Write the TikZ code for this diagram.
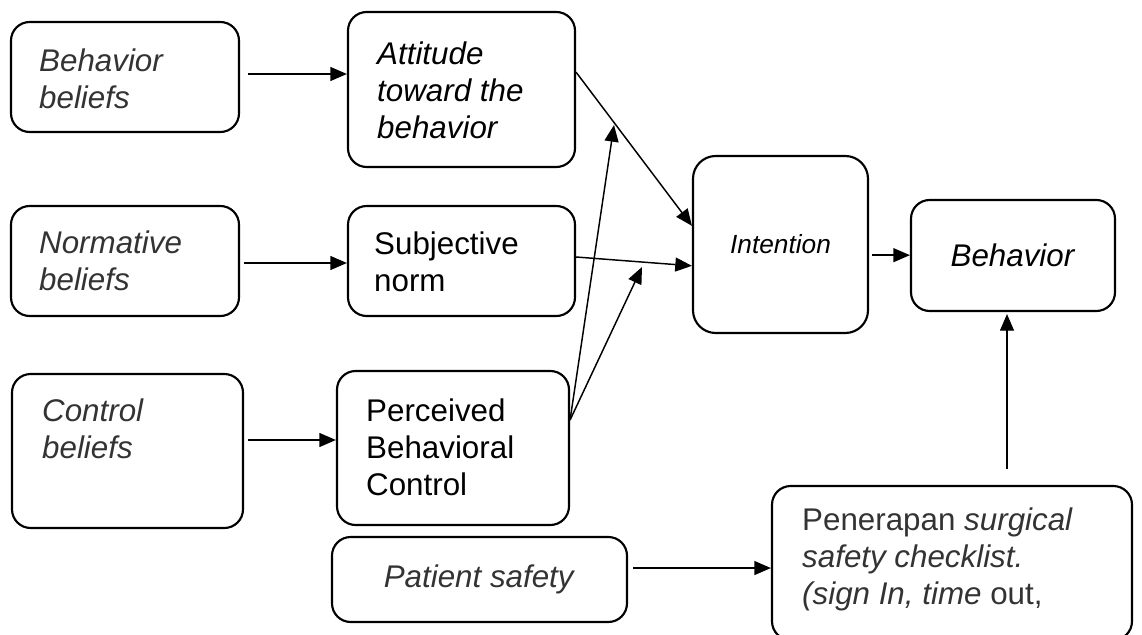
\documentclass[tikz,border=0pt]{standalone}
\usepackage{fontspec}
\setmainfont{Liberation Sans}
\usetikzlibrary{positioning,arrows.meta}

\definecolor{textgrey}{gray}{0.2}

\tikzset{
  box/.style={draw, line width=1.6pt, rounded corners=14pt},
  lbl/.style={inner sep=0pt, align=left},
  arr/.style={-{Triangle[length=12.5pt,width=10.5pt]}, line width=1.1pt}
}

\begin{document}
\begin{tikzpicture}
  [x=0.75pt, y=-0.75pt, font=\fontsize{23.5}{27.75}\selectfont]
  \useasboundingbox (0,0) rectangle (1142,635);
  \clip (0,0) rectangle (1142,635);

  % beliefs (left column)
  \node[box, minimum width=171pt, minimum height=82.5pt] (bb) at (125,77) {};
  \node[box, minimum width=171pt, minimum height=82.5pt] (nb) at (125,261) {};
  \node[box, minimum width=173.25pt, minimum height=115.5pt] (cb) at (127.5,451) {};
  \node[lbl, text=textgrey, below right=21pt and 21.75pt of bb.north west] (bbtext) {\textit{Behavior}\\\textit{beliefs}};
  \node[lbl, text=textgrey, below right=19.5pt and 21.75pt of nb.north west] (nbtext) {\textit{Normative}\\\textit{beliefs}};
  \node[lbl, text=textgrey, below right=19.5pt and 23.25pt of cb.north west] (cbtext) {\textit{Control}\\\textit{beliefs}};

  % middle column
  \node[box, minimum width=170.25pt, minimum height=116.25pt] (att) at (461.5,89.5) {};
  \node[box, minimum width=170.25pt, minimum height=82.5pt] (sn) at (461.5,261) {};
  \node[box, minimum width=174pt, minimum height=115.5pt] (pbc) at (453,448) {};
  \node[lbl, below right=23pt and 22.5pt of att.north west] (atttext) {\textit{Attitude}\\\textit{toward the}\\\textit{behavior}};
  \node[lbl, below right=20.25pt and 20.25pt of sn.north west] (sntext) {Subjective\\norm};
  \node[lbl, below right=21.75pt and 22.5pt of pbc.north west] (pbctext) {Perceived\\Behavioral\\Control};
  \node[box, text=textgrey, minimum width=221.25pt, minimum height=63.75pt] (ps) at (479.5,579.5) {\textit{Patient safety}};

  % right part
  \node[box, rounded corners=17pt, minimum width=131.25pt, minimum height=132.75pt,
        font=\fontsize{19.7}{23}\selectfont] (int) at (780.5,244.5) {\textit{Intention}};
  \node[box, minimum width=153pt, minimum height=83.25pt] (beh) at (1013,255.5) {\textit{Behavior}};
  \node[box, minimum width=270pt, minimum height=115.5pt] (chk) at (952,563) {};
  \node[lbl, text=textgrey, below right=17.25pt and 23.25pt of chk.north west] (chktext)
     {Penerapan \textit{surgical}\\\textit{safety checklist.}\\\textit{(sign In, time} out,};

  % free ends
  \coordinate (tipA) at (614,125);
  \coordinate (tipB) at (642,267);
  \coordinate (chkup) at (1007,469);

  % connectors
  \draw[arr, shorten <=6pt] ([yshift=2.25pt]bb.east) -- ([yshift=2.25pt]bb.east -| att.west);
  \draw[arr, shorten <=3pt] ([yshift=-1.5pt]nb.east) -- ([yshift=-1.5pt]nb.east -| sn.west);
  \draw[arr, shorten <=3pt] ([yshift=8.25pt]cb.east) -- ([yshift=8.25pt]cb.east -| pbc.west);
  \draw[arr] ([yshift=13pt]att.east) -- ([yshift=14pt]int.west);
  \draw[arr] ([yshift=3pt]sn.east) -- ([yshift=-16pt]int.west);
  \draw[arr] ([yshift=21pt]pbc.east) -- (tipA);
  \draw[arr] ([yshift=21pt]pbc.east) -- (tipB);
  \draw[arr, shorten <=2pt] ([yshift=-8pt]int.east) -- ([yshift=-8pt]int.east -| beh.west);
  \draw[arr, shorten >=1.5pt] (chkup) -- (chkup |- beh.south);
  \draw[arr, shorten <=3.75pt] ([yshift=8.6pt]ps.east) -- ([yshift=8.6pt]ps.east -| chk.west);
\end{tikzpicture}
\end{document}
